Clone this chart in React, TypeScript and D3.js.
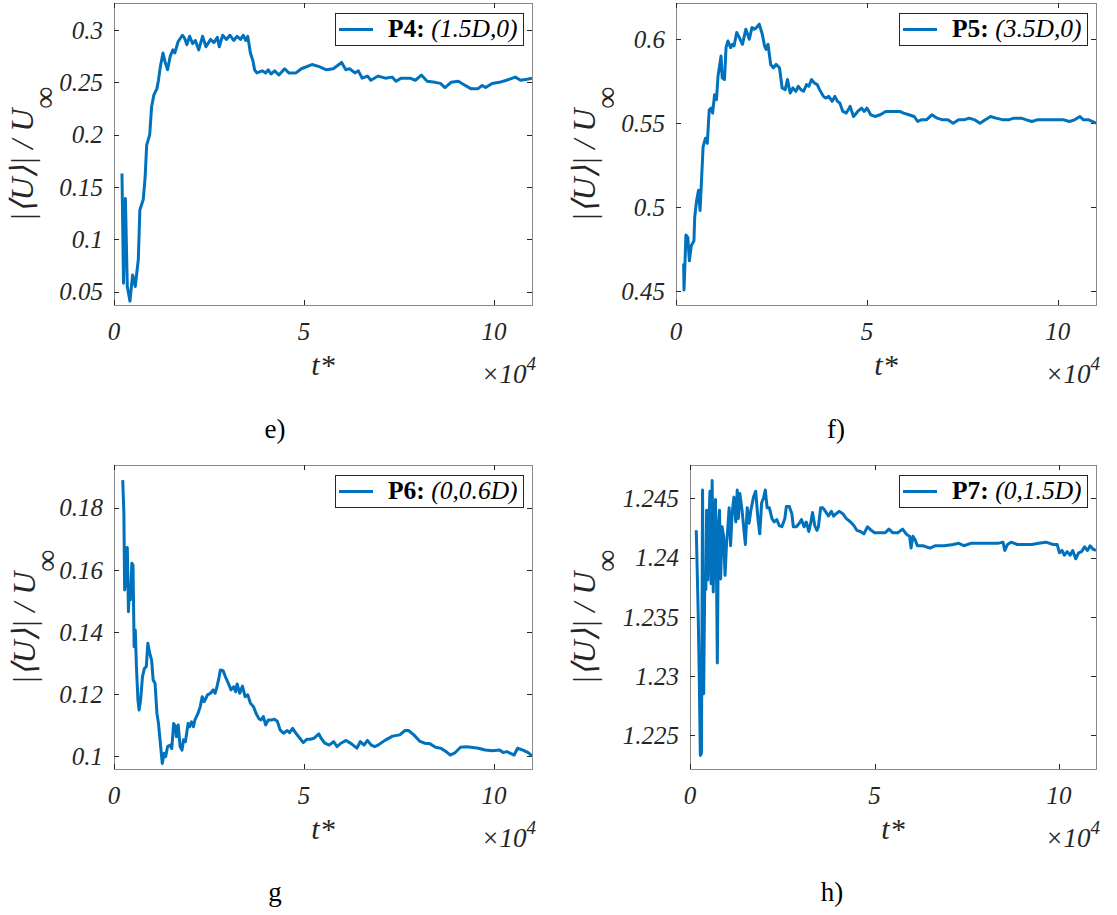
import React from 'react';
import * as d3 from 'd3';

// ---------- data (t* in units of 10^4, |<U>|/U_inf) ----------
const xTicks = [0, 5, 10];
const xTickLabels = ['0', '5', '10'];

const tE = [0.21,0.25,0.30,0.35,0.42,0.49,0.56,0.64,0.68,0.77,0.82,0.86,0.94,0.99,1.05,1.13,1.17,1.22,1.29,1.34,1.41,1.48,1.55,1.6,1.69,1.8,1.86,1.92,1.99,2.07,2.14,2.23,2.33,2.42,2.54,2.63,2.72,2.77,2.86,2.96,3.05,3.15,3.24,3.33,3.4,3.47,3.52,3.59,3.66,3.7,3.76,3.9,3.99,4.06,4.13,4.23,4.34,4.49,4.6,4.79,4.93,5.21,5.4,5.59,5.77,5.99,6.1,6.2,6.34,6.43,6.53,6.67,6.76,6.95,7.14,7.32,7.42,7.56,7.79,7.93,8.09,8.24,8.45,8.59,8.71,8.87,9.06,9.2,9.39,9.58,9.69,9.78,9.95,10.14,10.33,10.56,10.7,10.87,11.0];
const uE = [0.163,0.058,0.139,0.055,0.041,0.066,0.055,0.081,0.128,0.138,0.16,0.19,0.2,0.227,0.238,0.244,0.252,0.265,0.278,0.27,0.262,0.275,0.281,0.278,0.289,0.295,0.292,0.286,0.294,0.287,0.29,0.281,0.294,0.284,0.291,0.288,0.293,0.284,0.295,0.291,0.295,0.29,0.294,0.291,0.295,0.29,0.294,0.278,0.27,0.262,0.259,0.261,0.259,0.262,0.258,0.261,0.257,0.263,0.259,0.259,0.263,0.267,0.265,0.262,0.263,0.269,0.262,0.263,0.259,0.261,0.254,0.256,0.252,0.256,0.254,0.255,0.251,0.254,0.254,0.252,0.257,0.251,0.25,0.249,0.245,0.25,0.251,0.248,0.244,0.244,0.247,0.245,0.249,0.25,0.252,0.255,0.252,0.253,0.254];
const yTicksE = [0.05, 0.1, 0.15, 0.2, 0.25, 0.3];
const yTickLabelsE = ['0.05', '0.1', '0.15', '0.2', '0.25', '0.3'];

const tF = [0.2,0.21,0.26,0.31,0.35,0.40,0.47,0.49,0.54,0.59,0.63,0.66,0.71,0.77,0.82,0.87,0.92,0.96,1.01,1.06,1.10,1.18,1.21,1.27,1.31,1.36,1.43,1.48,1.52,1.59,1.66,1.74,1.83,1.92,1.99,2.05,2.11,2.18,2.26,2.32,2.36,2.41,2.48,2.55,2.62,2.71,2.78,2.86,2.92,2.99,3.06,3.14,3.2,3.27,3.34,3.42,3.48,3.55,3.62,3.7,3.76,3.86,3.92,4.0,4.09,4.16,4.23,4.29,4.37,4.46,4.56,4.65,4.76,4.86,4.93,5.0,5.1,5.21,5.35,5.49,5.63,5.77,5.86,5.96,6.1,6.24,6.33,6.42,6.56,6.7,6.84,6.98,7.12,7.26,7.4,7.54,7.68,7.82,7.96,8.1,8.24,8.38,8.57,8.71,8.85,9.04,9.18,9.32,9.46,9.6,9.74,9.88,10.02,10.16,10.3,10.44,10.58,10.67,10.81,11.0];
const uF = [0.4665,0.4506,0.4834,0.482,0.468,0.477,0.48,0.494,0.504,0.51,0.498,0.512,0.536,0.541,0.538,0.558,0.559,0.556,0.567,0.564,0.578,0.59,0.577,0.576,0.595,0.599,0.595,0.597,0.596,0.604,0.601,0.597,0.606,0.6,0.607,0.606,0.607,0.609,0.603,0.596,0.594,0.597,0.585,0.583,0.585,0.583,0.571,0.57,0.576,0.568,0.571,0.569,0.572,0.57,0.569,0.573,0.572,0.576,0.574,0.573,0.57,0.566,0.565,0.566,0.563,0.566,0.563,0.562,0.557,0.556,0.56,0.554,0.557,0.559,0.557,0.559,0.555,0.554,0.555,0.557,0.557,0.557,0.557,0.556,0.555,0.554,0.551,0.552,0.552,0.555,0.553,0.552,0.552,0.55,0.552,0.552,0.553,0.552,0.55,0.552,0.554,0.553,0.552,0.552,0.553,0.553,0.552,0.551,0.552,0.552,0.552,0.552,0.552,0.552,0.551,0.552,0.554,0.552,0.552,0.55];
const yTicksF = [0.45, 0.5, 0.55, 0.6];
const yTickLabelsF = ['0.45', '0.5', '0.55', '0.6'];

const tG = [0.23,0.26,0.28,0.31,0.33,0.35,0.38,0.40,0.43,0.47,0.50,0.53,0.56,0.59,0.63,0.66,0.70,0.75,0.80,0.85,0.89,0.94,0.99,1.03,1.08,1.13,1.17,1.22,1.27,1.32,1.36,1.41,1.48,1.52,1.57,1.62,1.64,1.69,1.74,1.79,1.83,1.88,1.95,1.99,2.04,2.09,2.13,2.21,2.27,2.32,2.37,2.42,2.46,2.54,2.61,2.66,2.71,2.75,2.8,2.87,2.93,3.01,3.08,3.15,3.2,3.24,3.31,3.38,3.45,3.52,3.59,3.67,3.74,3.81,3.87,3.93,3.99,4.06,4.14,4.23,4.3,4.37,4.46,4.56,4.62,4.7,4.79,4.89,4.98,5.08,5.17,5.26,5.39,5.45,5.55,5.66,5.78,5.87,5.97,6.11,6.25,6.39,6.48,6.58,6.67,6.77,6.86,6.95,7.14,7.33,7.52,7.66,7.75,7.89,8.04,8.18,8.32,8.46,8.6,8.74,8.85,8.98,9.12,9.26,9.4,9.59,9.77,9.96,10.15,10.24,10.34,10.53,10.62,10.76,10.9,11.0];
const uG = [0.1889,0.1782,0.1535,0.1669,0.1545,0.1672,0.1465,0.1535,0.1503,0.1621,0.1615,0.1352,0.1406,0.1288,0.118,0.1148,0.118,0.1256,0.1282,0.1288,0.1363,0.1331,0.1309,0.1245,0.1234,0.1137,0.1105,0.1041,0.0976,0.1009,0.0998,0.103,0.1035,0.1024,0.1105,0.1094,0.1062,0.11,0.103,0.1019,0.1052,0.1046,0.1105,0.1094,0.111,0.1094,0.1116,0.1137,0.1159,0.1191,0.1175,0.1186,0.1197,0.1202,0.1213,0.1202,0.1223,0.1245,0.1277,0.1275,0.1256,0.1234,0.1213,0.1223,0.1207,0.1232,0.1202,0.1225,0.1191,0.1197,0.117,0.1159,0.1137,0.1121,0.1116,0.1127,0.11,0.1116,0.1116,0.1118,0.1111,0.1084,0.1073,0.1082,0.1075,0.1089,0.1073,0.1057,0.1043,0.1054,0.1054,0.1057,0.1071,0.1057,0.1041,0.1035,0.1046,0.103,0.1041,0.105,0.1039,0.1025,0.1046,0.1035,0.105,0.1035,0.103,0.1035,0.1051,0.1064,0.1068,0.1082,0.1082,0.1068,0.1048,0.1041,0.1039,0.1028,0.1025,0.1014,0.1003,0.1011,0.1028,0.103,0.1028,0.1025,0.1019,0.1017,0.1019,0.1011,0.1014,0.1003,0.1025,0.1019,0.1011,0.1];
const yTicksG = [0.1, 0.12, 0.14, 0.16, 0.18];
const yTickLabelsG = ['0.1', '0.12', '0.14', '0.16', '0.18'];

const tH = [0.17,0.22,0.25,0.28,0.31,0.34,0.37,0.40,0.43,0.45,0.48,0.51,0.54,0.57,0.60,0.63,0.66,0.69,0.72,0.74,0.77,0.80,0.83,0.87,0.91,0.95,0.99,1.02,1.06,1.10,1.14,1.19,1.24,1.28,1.31,1.35,1.41,1.45,1.50,1.55,1.60,1.65,1.72,1.78,1.84,1.89,1.94,1.99,2.04,2.09,2.15,2.22,2.28,2.35,2.42,2.49,2.57,2.61,2.69,2.76,2.80,2.88,2.96,3.02,3.09,3.15,3.22,3.27,3.32,3.38,3.44,3.48,3.54,3.60,3.67,3.75,3.83,3.89,3.96,4.04,4.14,4.23,4.35,4.44,4.52,4.62,4.71,4.81,4.91,5.0,5.15,5.29,5.39,5.49,5.63,5.76,5.83,5.89,5.95,5.99,6.04,6.10,6.16,6.31,6.50,6.65,6.89,7.13,7.28,7.42,7.61,7.86,8.1,8.34,8.48,8.53,8.6,8.7,8.87,9.06,9.26,9.45,9.64,9.84,9.95,10.01,10.08,10.14,10.22,10.30,10.37,10.45,10.53,10.61,10.69,10.77,10.84,10.92,11.0];
const uH = [1.2423,1.2356,1.23,1.2233,1.2235,1.2457,1.2285,1.2381,1.2373,1.244,1.2381,1.2426,1.2456,1.2378,1.2465,1.2371,1.2423,1.2449,1.2381,1.2311,1.2426,1.244,1.2382,1.2426,1.2418,1.2385,1.2412,1.2423,1.2442,1.241,1.2437,1.2451,1.243,1.2457,1.2433,1.2454,1.244,1.2427,1.2411,1.2442,1.2429,1.244,1.2451,1.2456,1.2433,1.242,1.2446,1.245,1.2457,1.2442,1.2442,1.2433,1.243,1.2432,1.2427,1.2426,1.2433,1.2443,1.2443,1.2437,1.2426,1.2426,1.2429,1.2432,1.2426,1.243,1.2422,1.2429,1.2438,1.2427,1.2423,1.2426,1.2442,1.2442,1.2439,1.2435,1.2439,1.2435,1.2437,1.2439,1.2437,1.2433,1.243,1.2427,1.2423,1.2422,1.242,1.2426,1.2423,1.2421,1.2421,1.2421,1.2424,1.2421,1.2421,1.2424,1.2421,1.2419,1.2418,1.2408,1.2418,1.2415,1.241,1.241,1.2408,1.241,1.241,1.2411,1.2412,1.241,1.2412,1.2412,1.2412,1.2412,1.2413,1.2406,1.2411,1.2413,1.2411,1.2411,1.2411,1.2412,1.2413,1.2411,1.2411,1.2404,1.2406,1.2402,1.2405,1.2402,1.2406,1.2399,1.2404,1.2405,1.2409,1.2406,1.241,1.2407,1.2406];
const yTicksH = [1.225, 1.23, 1.235, 1.24, 1.245];
const yTickLabelsH = ['1.225', '1.23', '1.235', '1.24', '1.245'];

const legendNames = ['P4:', 'P5:', 'P6:', 'P7:'];
const legendCoords = ['(1.5D,0)', '(3.5D,0)', '(0,0.6D)', '(0,1.5D)'];
const panelLetters = ['e)', 'f)', 'g', 'h)'];

// ---------- layout ----------
const COLOR = '#0072BD';
const FONT = '"Liberation Serif", "Times New Roman", serif';

const panels = [
  { id: 'e', t: tE, u: uE, yDomain: [0.0373, 0.3258], yTicks: yTicksE, yLabels: yTickLabelsE, left: 114, right: 532, top: 3, bottom: 305, labelX: 33, letterX: 275, letterY: 438 },
  { id: 'f', t: tF, u: uF, yDomain: [0.4417, 0.6216], yTicks: yTicksF, yLabels: yTickLabelsF, left: 676, right: 1096, top: 3, bottom: 305, labelX: 595, letterX: 836, letterY: 438 },
  { id: 'g', t: tG, u: uG, yDomain: [0.0958, 0.19376], yTicks: yTicksG, yLabels: yTickLabelsG, left: 114, right: 532, top: 465, bottom: 769, labelX: 35, letterX: 275, letterY: 901 },
  { id: 'h', t: tH, u: uH, yDomain: [1.22216, 1.24781], yTicks: yTicksH, yLabels: yTickLabelsH, left: 690, right: 1096, top: 465, bottom: 769, labelX: 595, letterX: 832, letterY: 901 },
];

function Panel({ p, idx }: { p: any; idx: number }) {
  const x = d3.scaleLinear().domain([0, 11]).range([p.left, p.right]);
  const y = d3.scaleLinear().domain(p.yDomain).range([p.bottom, p.top]);
  const line = d3.line<number>().x((_, i) => x(p.t[i])).y((d) => y(d));
  const tickLen = 5;
  const axisCol = '#8a8a8a';
  const tickCol = '#262626';
  const midY = (p.top + p.bottom) / 2;
  const lgX = p.right - 197;
  const lgY = p.top + 10;
  return (
    <g>
      <defs>
        <clipPath id={`clip-${p.id}`}>
          <rect x={p.left} y={p.top} width={p.right - p.left} height={p.bottom - p.top} />
        </clipPath>
      </defs>
      <rect x={p.left + 0.5} y={p.top + 0.5} width={p.right - p.left} height={p.bottom - p.top} fill="none" stroke={axisCol} strokeWidth={1} />
      {xTicks.map((v, i) => (
        <g key={`xt${i}`}>
          <line x1={Math.round(x(v)) + 0.5} x2={Math.round(x(v)) + 0.5} y1={p.bottom} y2={p.bottom - tickLen} stroke={tickCol} />
          <line x1={Math.round(x(v)) + 0.5} x2={Math.round(x(v)) + 0.5} y1={p.top} y2={p.top + tickLen} stroke={tickCol} />
          <text x={x(v)} y={p.bottom + 35} textAnchor="middle" fontFamily={FONT} fontStyle="italic" fontSize={25} fill={tickCol}>{xTickLabels[i]}</text>
        </g>
      ))}
      {p.yTicks.map((v: number, i: number) => (
        <g key={`yt${i}`}>
          <line x1={p.left} x2={p.left + tickLen} y1={Math.round(y(v)) + 0.5} y2={Math.round(y(v)) + 0.5} stroke={tickCol} />
          <line x1={p.right} x2={p.right - tickLen} y1={Math.round(y(v)) + 0.5} y2={Math.round(y(v)) + 0.5} stroke={tickCol} />
          <text x={p.left - 11} y={y(v)} dy="0.35em" textAnchor="end" fontFamily={FONT} fontStyle="italic" fontSize={25} fill={tickCol}>{p.yLabels[i]}</text>
        </g>
      ))}
      <path d={line(p.u) || ''} fill="none" stroke={COLOR} strokeWidth={3} strokeLinejoin="round" clipPath={`url(#clip-${p.id})`} />
      <text transform={`translate(${p.labelX},${midY}) rotate(-90)`} textAnchor="middle" fontFamily={FONT} fontStyle="italic" fontSize={32} fill={tickCol}>
        {'|⟨U⟩| / U'}
        <tspan dy={22} fontStyle="normal" fontSize={31}>∞</tspan>
      </text>
      <text x={(p.left + p.right) / 2} y={p.bottom + 70} textAnchor="middle" fontFamily={FONT} fontStyle="italic" fontSize={30} fill={tickCol}>t*</text>
      <text x={p.right + 4} y={p.bottom + 78} textAnchor="end" fontFamily={FONT} fontStyle="italic" fontSize={27} fill={tickCol}>
        ×10<tspan dy={-13} fontSize={19}>4</tspan>
      </text>
      <rect x={lgX + 0.5} y={lgY + 0.5} width={188} height={32} fill="#fff" stroke={tickCol} strokeWidth={1} />
      <line x1={lgX + 4} x2={lgX + 38} y1={lgY + 16.5} y2={lgY + 16.5} stroke={COLOR} strokeWidth={3} />
      <text x={lgX + 53} y={lgY + 24} fontFamily={FONT} fontSize={25.5} fill="#000">
        <tspan fontWeight="bold">{legendNames[idx]}</tspan>
        <tspan fontStyle="italic">{' ' + legendCoords[idx]}</tspan>
      </text>
      <text x={p.letterX} y={p.letterY} textAnchor="middle" fontFamily={FONT} fontSize={27} fill="#000">{panelLetters[idx]}</text>
    </g>
  );
}

export default function App() {
  return (
    <svg width={1117} height={915} style={{ position: 'absolute', left: 0, top: 0, background: '#fff' }}>
      <rect x={0} y={0} width={1117} height={915} fill="#fff" />
      {panels.map((p, i) => (
        <Panel key={p.id} p={p} idx={i} />
      ))}
    </svg>
  );
}
